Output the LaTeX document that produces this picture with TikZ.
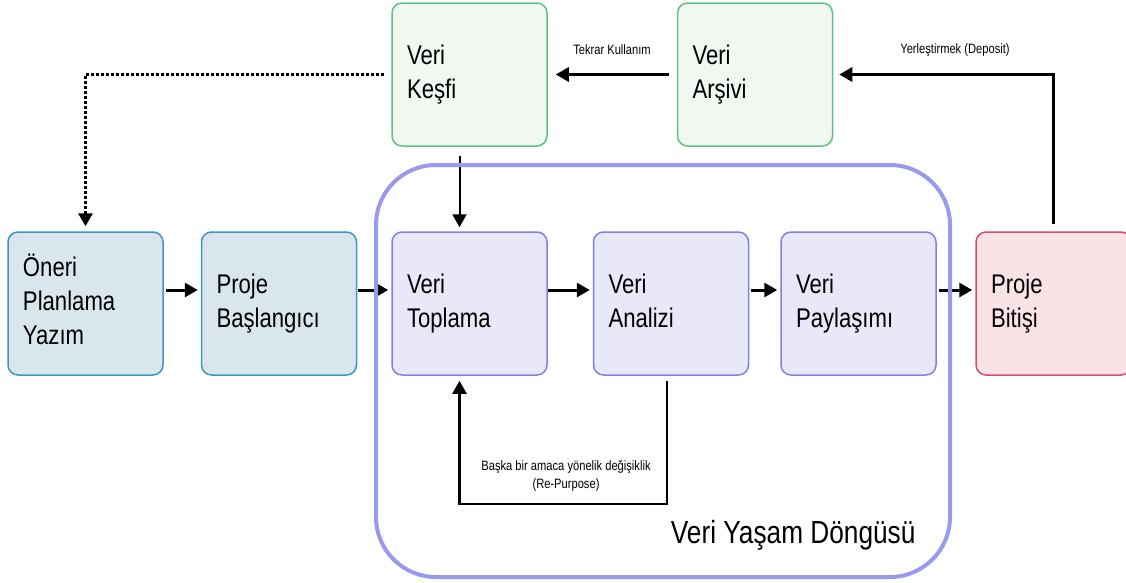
\documentclass[tikz,border=0pt]{standalone}
\usepackage{fontspec}
\setmainfont{Liberation Sans}[FakeStretch=0.82]
\usetikzlibrary{arrows.meta}

\definecolor{planfill}{RGB}{218,230,238}
\definecolor{planedge}{RGB}{62,150,190}
\definecolor{cyclefill}{RGB}{232,232,248}
\definecolor{cycleedge}{RGB}{128,128,232}
\definecolor{archfill}{RGB}{241,247,241}
\definecolor{archedge}{RGB}{94,194,134}
\definecolor{endfill}{RGB}{249,227,231}
\definecolor{endedge}{RGB}{214,76,110}
\definecolor{loopedge}{RGB}{153,153,238}

\tikzset{
  stagebox/.style={draw, line width=1.5pt, rounded corners=10pt,
    minimum height=143pt, text width=125pt, inner xsep=15pt,
    inner ysep=0pt, align=left, font=\fontsize{27}{34}\selectfont,
    execute at begin node=\strut, execute at end node=\strut},
  planbox/.style={stagebox, fill=planfill, draw=planedge},
  cyclebox/.style={stagebox, fill=cyclefill, draw=cycleedge},
  archbox/.style={stagebox, fill=archfill, draw=archedge},
  endbox/.style={stagebox, fill=endfill, draw=endedge},
  flow/.style={line width=3pt, -{Triangle[length=13pt,width=14pt]}},
  smalllabel/.style={font=\fontsize{13.6}{18}\selectfont, align=center},
}

\begin{document}
\begin{tikzpicture}[x=1pt,y=-1pt]
  \useasboundingbox (0,0) rectangle (1126,582);

  % main row
  \node[planbox] (oneri) at (85.5,303.5) {Öneri\\Planlama\\Yazım};
  \node[planbox] (proje) at (279,303.5) {Proje\\Başlangıcı};
  \node[cyclebox] (toplama) at (469.5,303.5) {Veri\\Toplama};
  \node[cyclebox] (analizi) at (671,303.5) {Veri\\Analizi};
  \node[cyclebox] (paylasim) at (858.5,303.5) {Veri\\Paylaşımı};
  \node[endbox] (bitis) at (1053.5,303.5) {Proje\\Bitişi};

  % top row
  \node[archbox] (kesfi) at (469.5,74.5) {Veri\\Keşfi};
  \node[archbox] (arsiv) at (755,74.5) {Veri\\Arşivi};

  \draw[flow, shorten <=2pt, shorten >=3pt]
    ([yshift=13.5pt]oneri.east) -- ([yshift=13.5pt]proje.west);
  \draw[flow, shorten <=1pt, shorten >=3pt]
    ([yshift=13.5pt]proje.east) -- ([yshift=13.5pt]toplama.west);
  \draw[flow, shorten <=0pt, shorten >=3pt]
    ([yshift=13.5pt]toplama.east) -- ([yshift=13.5pt]analizi.west);
  \draw[flow, shorten <=2pt, shorten >=3pt]
    ([yshift=13.5pt]analizi.east) -- ([yshift=13.5pt]paylasim.west);
  \draw[flow, shorten <=2pt, shorten >=3pt]
    ([yshift=13.5pt]paylasim.east) -- ([yshift=13.5pt]bitis.west);

  \draw[flow, shorten <=8pt, shorten >=8pt] (arsiv.west) -- (kesfi.east);
  \draw[flow, shorten <=7pt, shorten >=6pt] (bitis.north) |- (arsiv.east);
  \draw[flow, dash pattern=on 3pt off 2pt, shorten <=7pt, shorten >=5pt]
    (kesfi.west) -| (oneri.north);
  \draw[flow, line width=2pt, shorten <=9pt, shorten >=4pt]
    ([xshift=-10pt]kesfi.south) -- ([xshift=-10pt]toplama.north);
  \draw[flow, line width=2.5pt, shorten <=5pt, shorten >=5pt]
    ([xshift=-4pt]analizi.south) -- ++(0,128) -| ([xshift=-10pt]toplama.south);

  \node[smalllabel] (reuse) at (612,50) {Tekrar Kullanım};
  \node[smalllabel] (deposit) at (955,50) {Yerleştirmek (Deposit)};
  \node[smalllabel] (repurpose) at (566,476)
    {Başka bir amaca yönelik değişiklik\\(Re-Purpose)};

  % life cycle frame
  \draw[line width=4pt, draw=loopedge, rounded corners=60pt]
    (376,165) rectangle (950,577);
  \node[anchor=base east, font=\fontsize{32}{38}\selectfont]
    (cyclename) at (919,543) {Veri Yaşam Döngüsü};
\end{tikzpicture}
\end{document}
